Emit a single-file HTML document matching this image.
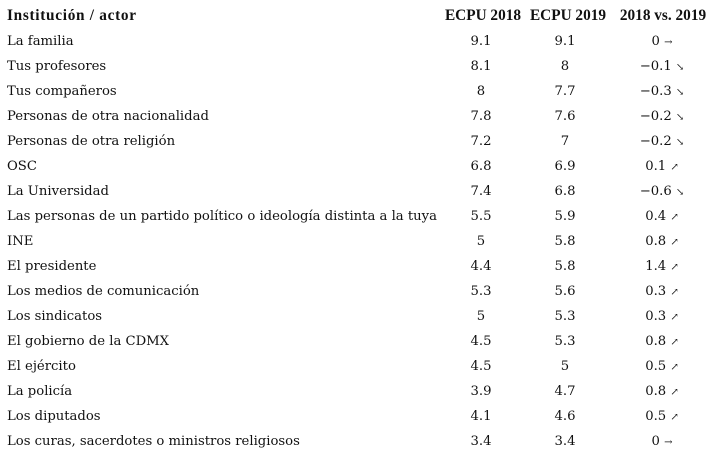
<!DOCTYPE html>
<html><head><meta charset="utf-8"><style>
body{margin:0;width:723px;height:458px;background:#fff;font-family:"DejaVu Serif",serif;color:#111;position:relative;overflow:hidden}
.c{position:absolute;font-size:13.2px;white-space:nowrap;line-height:20px}
.h{font-weight:bold;font-family:"Liberation Serif",serif;font-size:15.3px}
.ctr{transform:translateX(-50%)}
.ar{font-size:10px}
</style></head><body>
<div id="t"></div>
<script>
const labels=["La familia","Tus profesores","Tus compañeros","Personas de otra nacionalidad","Personas de otra religión","OSC","La Universidad","Las personas de un partido político o ideología distinta a la tuya","INE","El presidente","Los medios de comunicación","Los sindicatos","El gobierno de la CDMX","El ejército","La policía","Los diputados","Los curas, sacerdotes o ministros religiosos"];
const v2018=[9.1,8.1,8,7.8,7.2,6.8,7.4,5.5,5,4.4,5.3,5,4.5,4.5,3.9,4.1,3.4];
const v2019=[9.1,8,7.7,7.6,7,6.9,6.8,5.9,5.8,5.8,5.6,5.3,5.3,5,4.7,4.6,3.4];
const diffs=["0","-0.1","-0.3","-0.2","-0.2","0.1","-0.6","0.4","0.8","1.4","0.3","0.3","0.8","0.5","0.8","0.5","0"];
const t=document.getElementById('t');
function cell(txt,x,y,cls,name){const d=document.createElement('div');d.className='c '+cls;d.style.left=x+'px';d.style.top=y+'px';d.innerHTML=txt;


t.appendChild(d);return d;}
cell('Institución / actor',7,6,'h','header-institution').style.letterSpacing='0.7px';
cell('ECPU 2018',483,6,'h ctr','header-ecpu-2018');
cell('ECPU 2019',568,6,'h ctr','header-ecpu-2019');
cell('2018 vs. 2019',663,6,'h ctr','header-difference');
labels.forEach((l,i)=>{const y=32+i*25;
cell(l,7,y,'','row-label');
cell(String(v2018[i]),481,y,'ctr','value-2018');
cell(String(v2019[i]),565,y,'ctr','value-2019');
const dv=parseFloat(diffs[i]);const arrow=dv>0?'↗':dv<0?'↘':'→';
cell(diffs[i].replace('-','−')+' <span class="ar">'+arrow+'</span>',662,y,'ctr','difference-value');
});
</script>
</body></html>
